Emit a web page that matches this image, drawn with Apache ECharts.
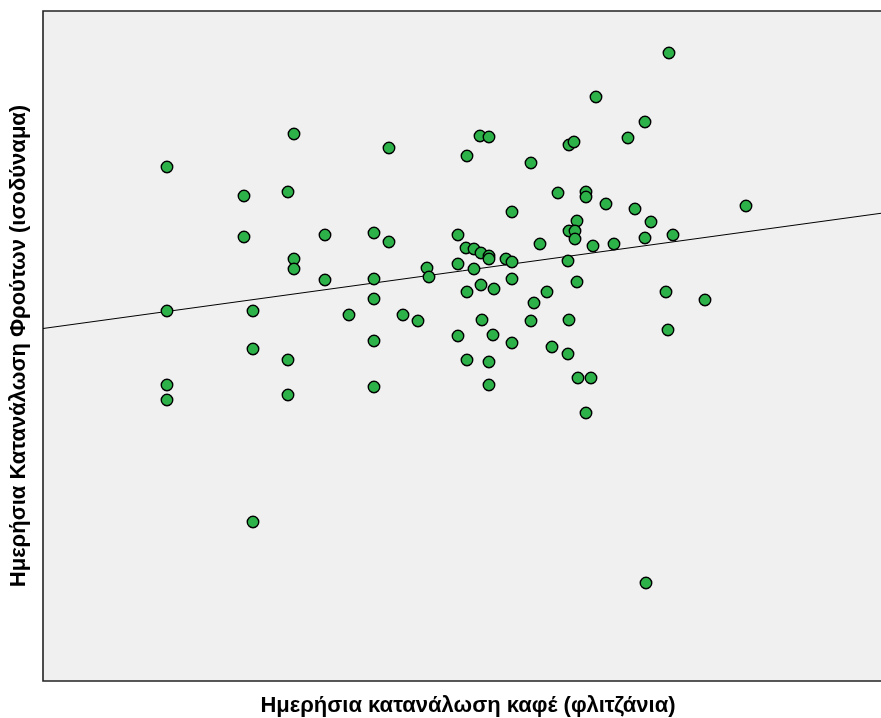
<!DOCTYPE html>
<html>
<head>
<meta charset="utf-8">
<script src="https://cdn.jsdelivr.net/npm/echarts@6/dist/echarts.min.js"></script>
<style>
  html, body { margin: 0; padding: 0; background: #ffffff; }
  #chart { width: 881px; height: 718px; }
</style>
</head>
<body>
<div id="chart"></div>
<script>
// Daily coffee consumption (cups) per respondent
const coffeeCups = [
  1.24, 2.51, 2.01, 2.45, 2.01, 2.82, 2.51, 2.51, 2.82, 1.24,
  2.10, 2.10, 2.45, 1.24, 1.24, 2.45, 2.10, 3.46, 4.37, 4.46,
  4.24, 4.69, 3.31, 3.46, 4.15, 4.23, 4.31, 4.38, 4.46, 4.46,
  4.63, 4.69, 3.84, 3.86, 4.15, 4.31, 3.31, 4.69, 4.38, 4.51,
  4.24, 3.31, 3.06, 3.60, 3.75, 4.39, 4.15, 4.50, 4.69, 3.31,
  4.24, 4.46, 3.31, 4.46, 6.26, 5.53, 6.02, 5.85, 5.26, 5.31,
  4.88, 5.15, 5.43, 5.43, 5.63, 5.92, 6.08, 5.34, 5.26, 5.32,
  5.32, 6.02, 6.30, 4.97, 5.50, 5.71, 5.25, 5.34, 5.04, 4.91,
  4.88, 5.26, 6.23, 6.62, 6.25, 5.09, 5.25, 5.35, 5.48, 5.43,
  7.03, 6.03
];

// Daily fruit consumption (servings) for the same respondents
const fruitServings = [
  5.14, 5.47, 4.85, 4.89, 4.44, 4.46, 4.22, 4.12, 4.01, 3.70,
  3.70, 3.32, 3.21, 2.96, 2.81, 2.86, 1.59, 5.33, 5.45, 5.44,
  5.25, 4.69, 4.48, 4.39, 4.46, 4.33, 4.32, 4.28, 4.25, 4.22,
  4.22, 4.19, 4.13, 4.04, 4.17, 4.12, 4.02, 4.02, 3.96, 3.92,
  3.89, 3.82, 3.66, 3.66, 3.60, 3.61, 3.45, 3.46, 3.38, 3.40,
  3.21, 3.19, 2.94, 2.96, 6.28, 5.84, 5.59, 5.43, 5.36, 5.39,
  5.18, 4.88, 4.89, 4.84, 4.77, 4.72, 4.59, 4.60, 4.50, 4.50,
  4.42, 4.43, 4.46, 4.37, 4.35, 4.37, 4.20, 3.99, 3.89, 3.78,
  3.60, 3.61, 3.89, 3.81, 3.51, 3.34, 3.27, 3.03, 3.03, 2.68,
  4.75, 0.98
];

// Axis extents
const xRange = [0, 8.41];
const yRange = [0, 6.70];

// Linear fit line: fruit = intercept + slope * coffee
const fitIntercept = 3.525;
const fitSlope = 0.1375;

const xTitle = 'Ημερήσια κατανάλωση καφέ (φλιτζάνια)';
const yTitle = 'Ημερήσια Κατανάλωση Φρούτων (ισοδύναμα)';

const points = coffeeCups.map((c, i) => [c, fruitServings[i]]);
const fitLine = xRange.map(x => [x, fitIntercept + fitSlope * x]);

const chart = echarts.init(document.getElementById('chart'), null, { renderer: 'canvas' });

const titleStyle = {
  fontFamily: 'Liberation Sans, Arial, sans-serif',
  fontWeight: 'bold',
  fontSize: 22,
  color: '#000000'
};

chart.setOption({
  animation: false,
  backgroundColor: '#ffffff',
  grid: {
    left: 43, top: 11, right: -3, bottom: 37,
    outerBoundsMode: 'none',
    containLabel: false,
    show: true,
    backgroundColor: '#f0f0f0',
    borderColor: '#222222',
    borderWidth: 1.6
  },
  xAxis: {
    type: 'value',
    min: xRange[0], max: xRange[1],
    name: xTitle,
    nameLocation: 'middle',
    nameGap: 14,
    nameTextStyle: Object.assign({}, titleStyle, { padding: [0, 0, 0, 9] }),
    axisLine: { show: false },
    axisTick: { show: false },
    axisLabel: { show: false },
    splitLine: { show: false }
  },
  yAxis: {
    type: 'value',
    min: yRange[0], max: yRange[1],
    name: yTitle,
    nameLocation: 'middle',
    nameGap: 13,
    nameTextStyle: titleStyle,
    axisLine: { show: false },
    axisTick: { show: false },
    axisLabel: { show: false },
    splitLine: { show: false }
  },
  series: [
    {
      type: 'line',
      data: fitLine,
      symbol: 'none',
      lineStyle: { color: '#000000', width: 1 },
      z: 1
    },
    {
      type: 'scatter',
      data: points,
      symbol: 'circle',
      symbolSize: 11.5,
      itemStyle: { color: '#2db24a', borderColor: '#000000', borderWidth: 1.4, opacity: 1 },
      z: 2
    }
  ]
});
</script>
</body>
</html>
